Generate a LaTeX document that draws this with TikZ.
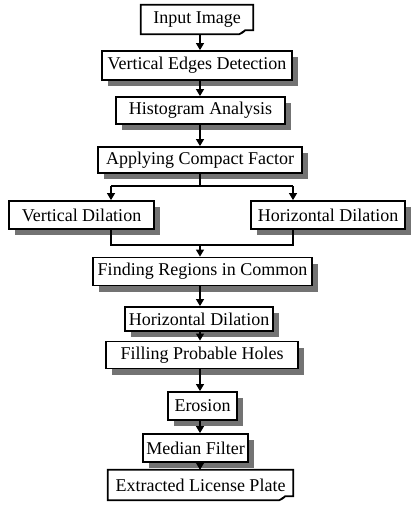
\documentclass[tikz,border=0pt]{standalone}
\usepackage{fontspec}
\setmainfont{Liberation Serif}
\usepackage{xcolor}
\usepackage{tikz}
\usetikzlibrary{arrows.meta}
\usetikzlibrary{shadows}

\begin{document}
\begin{tikzpicture}[x=1pt,y=-1pt,
		stage/.style={shape=rectangle,draw=black,line width=1.8pt,fill=white,inner sep=0pt,font=\fontsize{18}{20}\selectfont,
			drop shadow={shadow xshift=6pt,shadow yshift=-6pt,fill=black!55,opacity=1}},
		pagebox/.style={shape=rectangle,draw=none,inner sep=0pt,font=\fontsize{18}{20}\selectfont},
		pageline/.style={line width=1.8pt,line join=miter},
		flow/.style={line width=1.2pt,-{Triangle[width=8pt,length=7pt]}},
		link/.style={line width=1.2pt}]
			\useasboundingbox[fill=white] (0,0) rectangle (413,509);

			\node[pagebox, minimum width=112pt, minimum height=29pt] (in) at (197,19.5) {Input Image};
			\node[stage, minimum width=190pt, minimum height=29pt] (ved) at (197,65.5) {Vertical Edges Detection};
			\node[stage, minimum width=169pt, minimum height=27pt] (ha) at (200.5,110.5) {Histogram Analysis};
			\node[stage, minimum width=204pt, minimum height=26pt] (acf) at (200,160) {Applying Compact Factor};
			\node[stage, minimum width=145pt, minimum height=28pt] (vd) at (81.5,215) {Vertical Dilation};
			\node[stage, minimum width=154pt, minimum height=28pt] (hd) at (328,215) {Horizontal Dilation};
			\node[stage, minimum width=219pt, minimum height=28pt] (frc) at (202.5,271.5) {Finding Regions in Common};
			\node[stage, minimum width=148pt, minimum height=24pt] (hdb) at (199,319) {Horizontal Dilation};
			\node[stage, minimum width=192pt, minimum height=27pt] (fph) at (202,355) {Filling Probable Holes};
			\node[stage, minimum width=69pt, minimum height=28pt] (ero) at (202.5,406) {Erosion};
			\node[stage, minimum width=105pt, minimum height=28pt] (mf) at (195.5,448) {Median Filter};
			\node[pagebox, minimum width=185pt, minimum height=30pt] (elp) at (200.5,485) {Extracted License Plate};

			%% page outlines
			\draw[pageline] (in.south west) -- (in.north west) -- (in.north east) -- ([yshift=4pt]in.south east)
				-- ([xshift=-8pt,yshift=4pt]in.south east) .. controls ([xshift=-10pt,yshift=2pt]in.south east) .. ([xshift=-14pt]in.south east) -- cycle;
			\fill ([xshift=-8pt,yshift=4pt]in.south east) -- ([xshift=-14pt]in.south east) -- ([xshift=-11pt,yshift=3pt]in.south east) -- cycle;
			\draw[pageline] (elp.south west) -- (elp.north west) -- (elp.north east) -- ([yshift=4pt]elp.south east)
				-- ([xshift=-8pt,yshift=4pt]elp.south east) .. controls ([xshift=-10pt,yshift=2pt]elp.south east) .. ([xshift=-14pt]elp.south east) -- cycle;
			\fill ([xshift=-8pt,yshift=4pt]elp.south east) -- ([xshift=-14pt]elp.south east) -- ([xshift=-11pt,yshift=3pt]elp.south east) -- cycle;

			%% spine and branch points
			\coordinate (spine) at (200,0);
			\coordinate (split) at (200,186);
			\coordinate (join) at (200,245);
			\coordinate (lefttap) at (111,0);
			\coordinate (righttap) at (293,0);

			%% lines
			\draw[flow] (in.south -| spine) -- (ved.north -| spine);
			\draw[flow] (ved.south -| spine) -- (ha.north -| spine);
			\draw[flow] (ha.south -| spine) -- (acf.north -| spine);
			\draw[link] (acf.south -| spine) -- (split);
			\draw[link] (split -| lefttap) -- (split -| righttap);
			\draw[flow] (split -| lefttap) -- (vd.north -| lefttap);
			\draw[flow] (split -| righttap) -- (hd.north -| righttap);
			\draw[link] (vd.south -| lefttap) -- (join -| lefttap) -- (join -| righttap) -- (hd.south -| righttap);
			\draw[flow] (join) -- (frc.north -| spine);
			\draw[flow] (frc.south -| spine) -- (hdb.north -| spine);
			\draw[flow] (hdb.south -| spine) -- (fph.north -| spine);
			\draw[flow] (fph.south -| spine) -- (ero.north -| spine);
			\draw[flow] (ero.south -| spine) -- (mf.north -| spine);
			\draw[flow] (mf.south -| spine) -- (elp.north -| spine);
		\end{tikzpicture}
\end{document}
